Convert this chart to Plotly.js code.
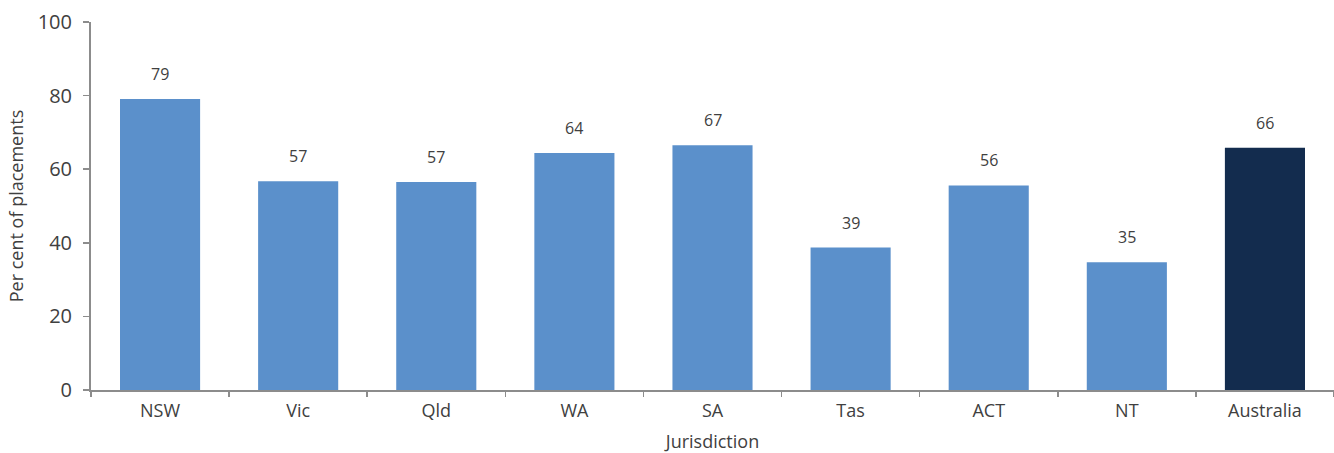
<!DOCTYPE html>
<html><head><meta charset="utf-8">
<script src="https://cdn.plot.ly/plotly-3.0.1.min.js"></script>
<style>html,body{margin:0;padding:0;background:#fff}#chart{width:1334px;height:453px}</style>
</head><body><div id="chart"></div>
<script>
const categories = ["NSW","Vic","Qld","WA","SA","Tas","ACT","NT","Australia"];
const values = [79.1, 56.7, 56.5, 64.4, 66.5, 38.7, 55.6, 34.7, 65.8];
const labels = ["79","57","57","64","67","39","56","35","66"];
const yTicks = [0,20,40,60,80,100];
const colors = categories.map(c => c === "Australia" ? "#132C4E" : "#5B90CB");
const font = "Segoe UI, 'Open Sans', 'Noto Sans', sans-serif";
const trace = {
  type: "bar", x: categories, y: values,
  marker: {color: colors, line: {width: 0}},
  hoverinfo: "none"
};
const annotations = categories.map((c,i) => ({
  x: c, y: values[i], text: labels[i], showarrow: false,
  yanchor: "bottom", yshift: 12, font: {family: font, size: 16, color: "#404040"}
}));
const layout = {
  width: 1334, height: 453,
  margin: {l: 91, r: 0, t: 22, b: 63},
  paper_bgcolor: "#fff", plot_bgcolor: "#fff",
  bargap: 0.42, showlegend: false,
  font: {family: font, color: "#404040"},
  xaxis: {
    type: "category", showgrid: false, showline: true, linecolor: "#8c8c8c", linewidth: 2,
    ticks: "outside", ticklen: 5, tickcolor: "#8c8c8c", tickwidth: 1.5, tickson: "boundaries",
    ticklabelstandoff: 3,
    tickfont: {family: font, size: 18, color: "#404040"},
    title: {text: "Jurisdiction", font: {family: font, size: 18, color: "#404040"}, standoff: 18},
    fixedrange: true, zeroline: false
  },
  yaxis: {
    range: [0, 100], tickvals: yTicks, ticktext: yTicks.map(String),
    showgrid: false, showline: true, linecolor: "#8c8c8c", linewidth: 2,
    ticks: "outside", ticklen: 6, tickcolor: "#8c8c8c", tickwidth: 1.5,
    ticklabelstandoff: 7,
    tickfont: {family: font, size: 20, color: "#404040"},
    title: {text: "Per cent of placements", font: {family: font, size: 18, color: "#404040"}, standoff: 9},
    zeroline: false, fixedrange: true
  },
  annotations: annotations
};
Plotly.newPlot("chart", [trace], layout, {displayModeBar: false, staticPlot: true});
</script></body></html>
